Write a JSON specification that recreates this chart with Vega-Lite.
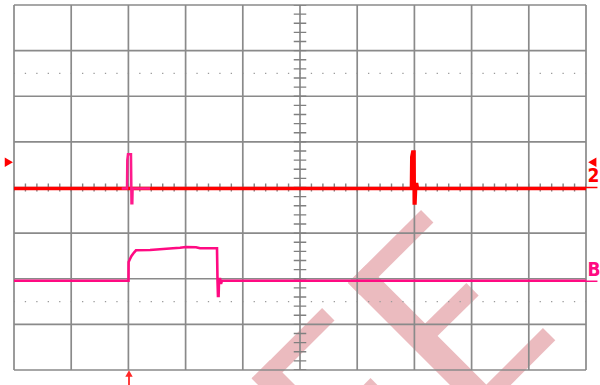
{
  "$schema": "https://vega.github.io/schema/vega-lite/v6.json",
  "width": 600,
  "height": 385,
  "padding": 0,
  "autosize": {"type": "none"},
  "background": "white",
  "config": {"view": {"stroke": null}},
  "datasets": {
    "wm": [
      {"part": "arm", "x": 7.224, "y": -0.631, "x2": 5.944, "y2": -2.225},
      {"part": "spine", "x": 6.000, "y": -1.892, "x2": 8.846, "y2": -5.462},
      {"part": "arm", "x": 7.136, "y": -3.316, "x2": 8.016, "y2": -2.229},
      {"part": "arm", "x": 8.205, "y": -4.658, "x2": 9.355, "y2": -3.213},
      {"part": "arm", "x": 5.495, "y": -2.777, "x2": 4.264, "y2": -4.320},
      {"part": "spine", "x": 4.315, "y": -3.982, "x2": 5.0, "y2": -4.842},
      {"part": "arm", "x": 5.460, "y": -5.418, "x2": 6.341, "y2": -4.313}
    ],
    "grid": [
      {"kind": "v", "x": 0, "x2": 0, "y": -4, "y2": 4},
      {"kind": "v", "x": 1, "x2": 1, "y": -4, "y2": 4},
      {"kind": "v", "x": 2, "x2": 2, "y": -4, "y2": 4},
      {"kind": "v", "x": 3, "x2": 3, "y": -4, "y2": 4},
      {"kind": "v", "x": 4, "x2": 4, "y": -4, "y2": 4},
      {"kind": "v", "x": 5, "x2": 5, "y": -4, "y2": 4},
      {"kind": "v", "x": 6, "x2": 6, "y": -4, "y2": 4},
      {"kind": "v", "x": 7, "x2": 7, "y": -4, "y2": 4},
      {"kind": "v", "x": 8, "x2": 8, "y": -4, "y2": 4},
      {"kind": "v", "x": 9, "x2": 9, "y": -4, "y2": 4},
      {"kind": "v", "x": 10, "x2": 10, "y": -4, "y2": 4},
      {"kind": "h", "x": 0, "x2": 10, "y": -4, "y2": -4},
      {"kind": "h", "x": 0, "x2": 10, "y": -3, "y2": -3},
      {"kind": "h", "x": 0, "x2": 10, "y": -2, "y2": -2},
      {"kind": "h", "x": 0, "x2": 10, "y": -1, "y2": -1},
      {"kind": "h", "x": 0, "x2": 10, "y": 0, "y2": 0},
      {"kind": "h", "x": 0, "x2": 10, "y": 1, "y2": 1},
      {"kind": "h", "x": 0, "x2": 10, "y": 2, "y2": 2},
      {"kind": "h", "x": 0, "x2": 10, "y": 3, "y2": 3},
      {"kind": "h", "x": 0, "x2": 10, "y": 4, "y2": 4},
      {"kind": "dots", "x": 0, "x2": 10, "y": 2.5, "y2": 2.5},
      {"kind": "dots", "x": 0, "x2": 10, "y": -2.5, "y2": -2.5},
      {"kind": "vticks", "x": 5, "x2": 5, "y": -4, "y2": 4},
      {"kind": "hticks", "x": 0, "x2": 10, "y": 0, "y2": 0}
    ],
    "red": [
      {"i": 0, "t": 0, "v": -0.022},
      {"i": 1, "t": 6.949, "v": -0.022},
      {"i": 2, "t": 6.955, "v": 0.668},
      {"i": 3, "t": 6.972, "v": 0.778},
      {"i": 4, "t": 6.993, "v": 0.778},
      {"i": 5, "t": 6.998, "v": -0.340},
      {"i": 6, "t": 7.010, "v": -0.340},
      {"i": 7, "t": 7.019, "v": -0.055},
      {"i": 8, "t": 7.037, "v": 0.099},
      {"i": 9, "t": 7.054, "v": -0.022},
      {"i": 10, "t": 10, "v": -0.022}
    ],
    "spike": [
      {"i": 0, "t": 1.883, "v": -0.022},
      {"i": 1, "t": 1.976, "v": -0.022},
      {"i": 2, "t": 1.981, "v": 0.603},
      {"i": 3, "t": 1.993, "v": 0.728},
      {"i": 4, "t": 2.045, "v": 0.728},
      {"i": 5, "t": 2.054, "v": -0.346},
      {"i": 6, "t": 2.068, "v": -0.346},
      {"i": 7, "t": 2.073, "v": -0.022},
      {"i": 8, "t": 2.378, "v": -0.022}
    ],
    "pinkB": [
      {"i": 0, "t": 0, "v": -2.043},
      {"i": 1, "t": 2.0017, "v": -2.043},
      {"i": 2, "t": 2.0035, "v": -1.633},
      {"i": 3, "t": 2.028, "v": -1.567},
      {"i": 4, "t": 2.054, "v": -1.501},
      {"i": 5, "t": 2.098, "v": -1.425},
      {"i": 6, "t": 2.133, "v": -1.376},
      {"i": 7, "t": 2.378, "v": -1.370},
      {"i": 8, "t": 2.780, "v": -1.333},
      {"i": 9, "t": 2.902, "v": -1.322},
      {"i": 10, "t": 3.007, "v": -1.304},
      {"i": 11, "t": 3.182, "v": -1.311},
      {"i": 12, "t": 3.252, "v": -1.333},
      {"i": 13, "t": 3.549, "v": -1.333},
      {"i": 14, "t": 3.558, "v": -2.043},
      {"i": 15, "t": 3.566, "v": -2.378},
      {"i": 16, "t": 3.577, "v": -2.378},
      {"i": 17, "t": 3.584, "v": -2.049},
      {"i": 18, "t": 3.601, "v": -1.984},
      {"i": 19, "t": 3.619, "v": -2.115},
      {"i": 20, "t": 3.636, "v": -2.043},
      {"i": 21, "t": 10, "v": -2.043}
    ],
    "markers": [
      {"kind": "tri-right", "x": -0.09, "y": 0.553, "y2": 0.553},
      {"kind": "tri-left", "x": 10.11, "y": 0.553, "y2": 0.553},
      {"kind": "trig", "x": 2.0105, "y": -4.075, "y2": -4.4}
    ],
    "labels": [
      {"ch": "2", "x": 10.025, "y": 0.128, "ux": 9.99, "ux2": 10.20, "uy": 0.0},
      {"ch": "B", "x": 10.025, "y": -1.95, "ux": 9.99, "ux2": 10.20, "uy": -2.055}
    ]
  },
  "encoding": {
    "x": {"field": "x", "type": "quantitative", "scale": {"domain": [-0.24476, 10.24476], "nice": false, "zero": false}, "axis": null},
    "y": {"field": "y", "type": "quantitative", "scale": {"domain": [-4.3288, 4.1096], "nice": false, "zero": false}, "axis": null}
  },
  "layer": [
    {
      "data": {"name": "wm"},
      "transform": [{"filter": "datum.part === 'arm'"}],
      "mark": {"type": "rule", "color": "#EBBBBF", "strokeWidth": 17.5, "strokeCap": "butt", "clip": true},
      "encoding": {"x2": {"field": "x2"}, "y2": {"field": "y2"}}
    },
    {
      "data": {"name": "wm"},
      "transform": [{"filter": "datum.part === 'spine'"}],
      "mark": {"type": "rule", "color": "#EBBBBF", "strokeWidth": 26, "strokeCap": "butt", "clip": true},
      "encoding": {"x2": {"field": "x2"}, "y2": {"field": "y2"}}
    },
    {
      "data": {"name": "grid"},
      "transform": [{"filter": "datum.kind === 'dots'"}],
      "mark": {"type": "rule", "color": "#9a9a9a", "strokeWidth": 1.3, "strokeDash": [1.3, 10.14], "strokeDashOffset": 0.65},
      "encoding": {"x2": {"field": "x2"}, "y2": {"field": "y2"}}
    },
    {
      "data": {"name": "grid"},
      "transform": [{"filter": "datum.kind === 'v' || datum.kind === 'h'"}],
      "mark": {"type": "rule", "color": "#8a8a8a", "strokeWidth": 1.7},
      "encoding": {"x2": {"field": "x2"}, "y2": {"field": "y2"}}
    },
    {
      "data": {"name": "grid"},
      "transform": [{"filter": "datum.kind === 'vticks'"}],
      "mark": {"type": "rule", "color": "#808080", "strokeWidth": 12.5, "strokeDash": [1.4, 7.725], "strokeDashOffset": 0.7},
      "encoding": {"x2": {"field": "x2"}, "y2": {"field": "y2"}}
    },
    {
      "data": {"name": "grid"},
      "transform": [{"filter": "datum.kind === 'hticks'"}],
      "mark": {"type": "rule", "color": "#808080", "strokeWidth": 8, "strokeDash": [1.4, 10.04], "strokeDashOffset": 0.7},
      "encoding": {"x2": {"field": "x2"}, "y2": {"field": "y2"}}
    },
    {
      "data": {"name": "red"},
      "mark": {"type": "line", "color": "#FF0000", "strokeWidth": 3.6, "clip": true},
      "encoding": {
        "x": {"field": "t", "type": "quantitative"},
        "y": {"field": "v", "type": "quantitative"},
        "order": {"field": "i", "type": "quantitative"}
      }
    },
    {
      "data": {"name": "spike"},
      "mark": {"type": "line", "color": "#FF1A8C", "strokeWidth": 2.5, "clip": true},
      "encoding": {
        "x": {"field": "t", "type": "quantitative"},
        "y": {"field": "v", "type": "quantitative"},
        "order": {"field": "i", "type": "quantitative"}
      }
    },
    {
      "data": {"name": "pinkB"},
      "mark": {"type": "line", "color": "#FF0A82", "strokeWidth": 2.6, "clip": true},
      "encoding": {
        "x": {"field": "t", "type": "quantitative"},
        "y": {"field": "v", "type": "quantitative"},
        "order": {"field": "i", "type": "quantitative"}
      }
    },
    {
      "data": {"name": "markers"},
      "transform": [{"filter": "datum.kind === 'tri-right'"}],
      "mark": {"type": "point", "shape": "triangle-right", "filled": true, "color": "#FF0000", "size": 90, "opacity": 1}
    },
    {
      "data": {"name": "markers"},
      "transform": [{"filter": "datum.kind === 'tri-left'"}],
      "mark": {"type": "point", "shape": "triangle-left", "filled": true, "color": "#FF0000", "size": 90, "opacity": 1}
    },
    {
      "data": {"name": "markers"},
      "transform": [{"filter": "datum.kind === 'trig'"}],
      "mark": {"type": "point", "shape": "triangle-up", "filled": true, "color": "#FF2828", "size": 55, "opacity": 1}
    },
    {
      "data": {"name": "markers"},
      "transform": [{"filter": "datum.kind === 'trig'"}],
      "mark": {"type": "rule", "color": "#FF2828", "strokeWidth": 1.8},
      "encoding": {"y2": {"field": "y2"}}
    },
    {
      "data": {"name": "labels"},
      "mark": {"type": "rule", "strokeWidth": 1.5},
      "encoding": {
        "x": {"field": "ux", "type": "quantitative"},
        "x2": {"field": "ux2"},
        "y": {"field": "uy", "type": "quantitative"},
        "color": {"field": "ch", "type": "nominal", "scale": {"domain": ["2", "B"], "range": ["#FF0000", "#FF0A82"]}, "legend": null}
      }
    },
    {
      "data": {"name": "labels"},
      "mark": {"type": "text", "align": "left", "baseline": "alphabetic", "font": "Liberation Sans Narrow, DejaVu Sans Condensed, Liberation Sans", "fontWeight": "bold", "fontSize": 19},
      "encoding": {
        "text": {"field": "ch"},
        "color": {"field": "ch", "type": "nominal", "scale": {"domain": ["2", "B"], "range": ["#FF0000", "#FF0A82"]}, "legend": null}
      }
    }
  ]
}
